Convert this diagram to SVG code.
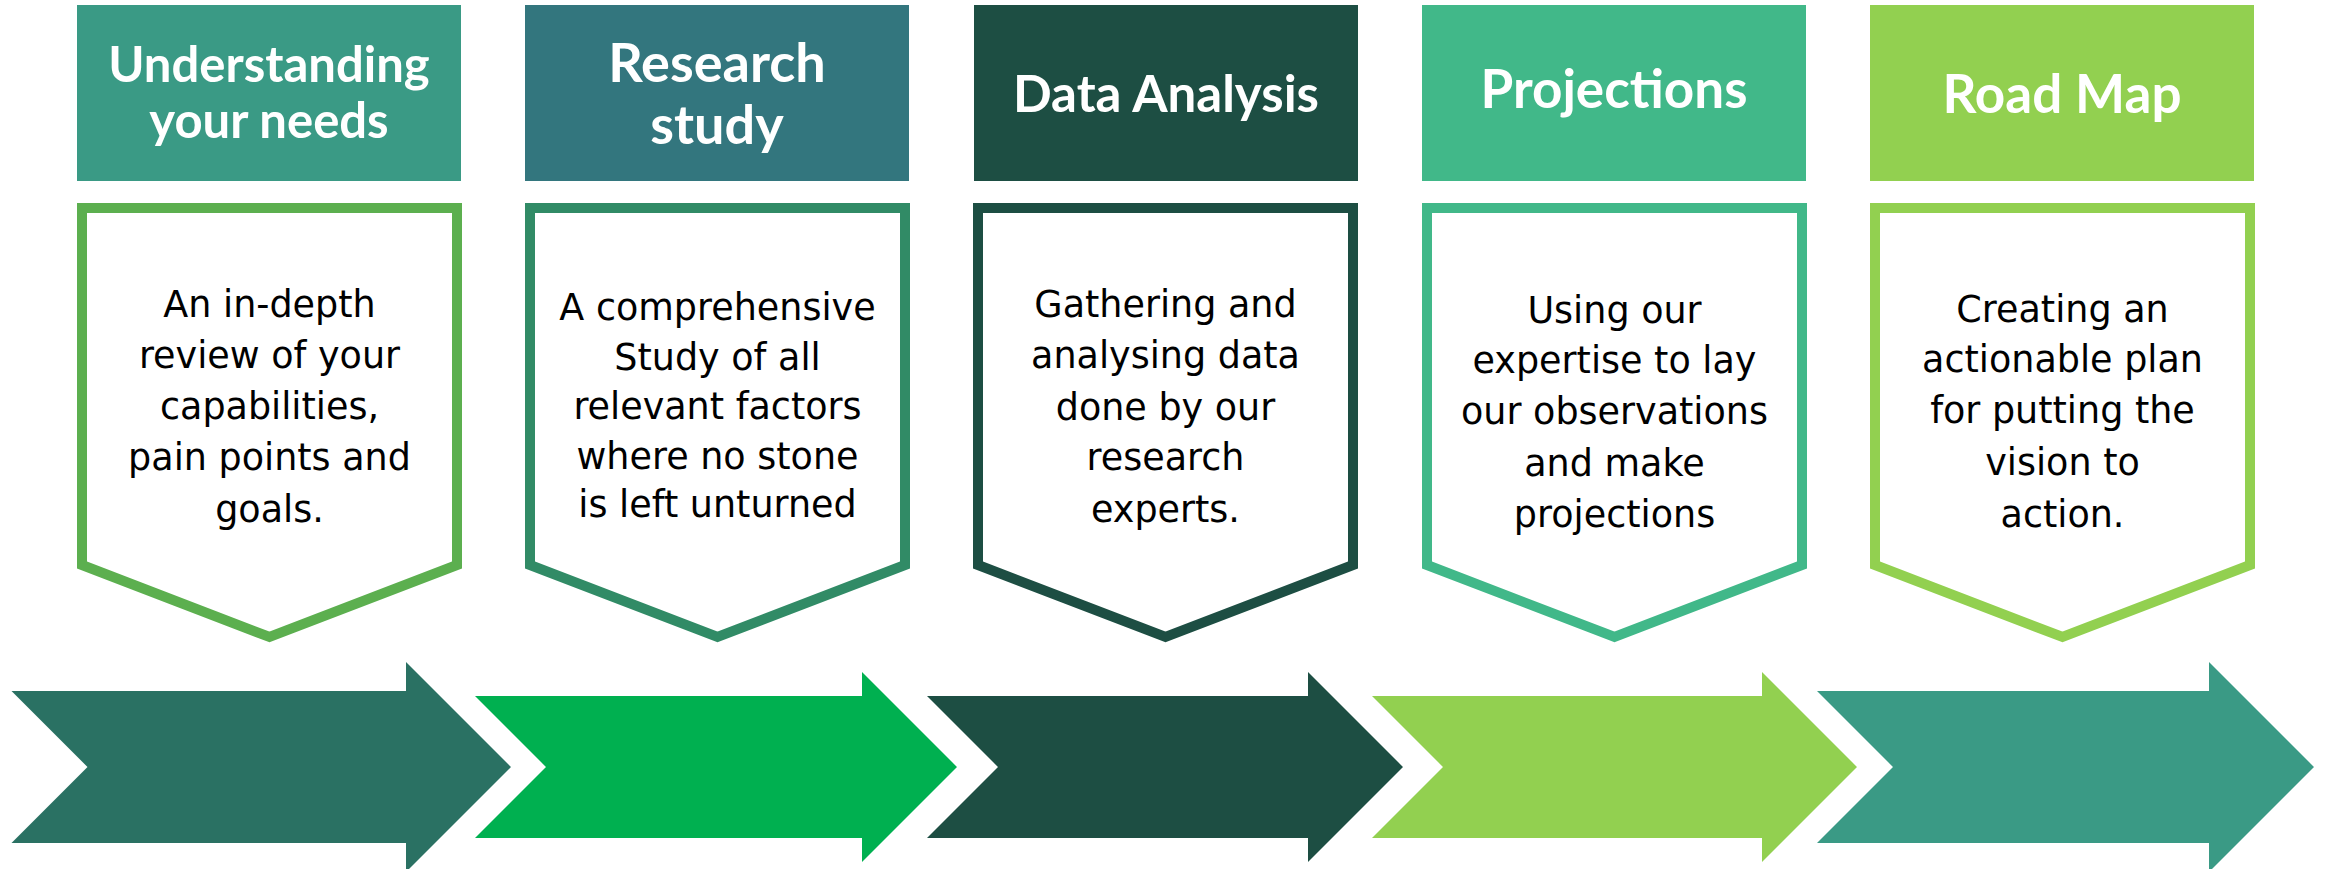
<svg xmlns="http://www.w3.org/2000/svg" width="2330" height="869" viewBox="0 0 2330 869">
<style>
.title{font-family:Lato,"Open Sans","Liberation Sans",sans-serif;font-weight:700;fill:#ffffff;text-anchor:middle}
.body{font-family:"DejaVu Sans","Liberation Sans",sans-serif;font-size:36.5px;fill:#000000;text-anchor:middle}
.pent{fill:#ffffff;stroke-width:10;stroke-linejoin:miter}
</style>
<rect width="2330" height="869" fill="#ffffff"/>
<g id="step1">
<rect x="77" y="5" width="384" height="176" fill="#3A9A85"/>
<text class="title" font-size="49" x="269" y="82">Understanding</text>
<text class="title" font-size="49" x="269" y="138">your needs</text>
<path class="pent" stroke="#5CAF4F" d="M82,208 L457,208 L457,565 L269.5,637 L82,565 Z"/>
<text class="body" x="269.5" y="317">An in-depth</text>
<text class="body" x="269.5" y="368">review of your</text>
<text class="body" x="269.5" y="419">capabilities,</text>
<text class="body" x="269.5" y="470">pain points and</text>
<text class="body" x="269.5" y="522">goals.</text>
</g>
<g id="step2">
<rect x="525" y="5" width="384" height="176" fill="#33767E"/>
<text class="title" font-size="54" x="717" y="82">Research</text>
<text class="title" font-size="54" x="717" y="144">study</text>
<path class="pent" stroke="#318B66" d="M530,208 L905,208 L905,565 L717.5,637 L530,565 Z"/>
<text class="body" x="717.5" y="320">A comprehensive</text>
<text class="body" x="717.5" y="370">Study of all</text>
<text class="body" x="717.5" y="419">relevant factors</text>
<text class="body" x="717.5" y="469">where no stone</text>
<text class="body" x="717.5" y="517">is left unturned</text>
</g>
<g id="step3">
<rect x="974" y="5" width="384" height="176" fill="#1D4E43"/>
<text class="title" font-size="51" x="1166" y="112">Data Analysis</text>
<path class="pent" stroke="#1D4E43" d="M978,208 L1353,208 L1353,565 L1165.5,637 L978,565 Z"/>
<text class="body" x="1165.5" y="317">Gathering and</text>
<text class="body" x="1165.5" y="368">analysing data</text>
<text class="body" x="1165.5" y="420">done by our</text>
<text class="body" x="1165.5" y="470">research</text>
<text class="body" x="1165.5" y="522">experts.</text>
</g>
<g id="step4">
<rect x="1422" y="5" width="384" height="176" fill="#41B889"/>
<text class="title" font-size="53" x="1614" y="108">Projections</text>
<path class="pent" stroke="#41B889" d="M1427,208 L1802,208 L1802,565 L1614.5,637 L1427,565 Z"/>
<text class="body" x="1614.5" y="323">Using our</text>
<text class="body" x="1614.5" y="373">expertise to lay</text>
<text class="body" x="1614.5" y="424">our observations</text>
<text class="body" x="1614.5" y="476">and make</text>
<text class="body" x="1614.5" y="527">projections</text>
</g>
<g id="step5">
<rect x="1870" y="5" width="384" height="176" fill="#92D050"/>
<text class="title" font-size="53" x="2062" y="113">Road Map</text>
<path class="pent" stroke="#92D050" d="M1875,208 L2250,208 L2250,565 L2062.5,637 L1875,565 Z"/>
<text class="body" x="2062.5" y="322">Creating an</text>
<text class="body" x="2062.5" y="372">actionable plan</text>
<text class="body" x="2062.5" y="423">for putting the</text>
<text class="body" x="2062.5" y="475">vision to</text>
<text class="body" x="2062.5" y="527">action.</text>
</g>
<g id="connectors">
<path fill="#2A7163" d="M11.5,691 L406,691 L406,662 L511,767 L406,872 L406,843 L11.5,843 L87.5,767 Z"/>
<path fill="#00B050" d="M475,696 L862,696 L862,672 L957,767 L862,862 L862,838 L475,838 L546,767 Z"/>
<path fill="#1D4E43" d="M927,696 L1308,696 L1308,672 L1403,767 L1308,862 L1308,838 L927,838 L998,767 Z"/>
<path fill="#92D050" d="M1372,696 L1762,696 L1762,672 L1857,767 L1762,862 L1762,838 L1372,838 L1443,767 Z"/>
<path fill="#3A9A85" d="M1817,691 L2209,691 L2209,662 L2314,767 L2209,872 L2209,843 L1817,843 L1893,767 Z"/>
</g>
</svg>
